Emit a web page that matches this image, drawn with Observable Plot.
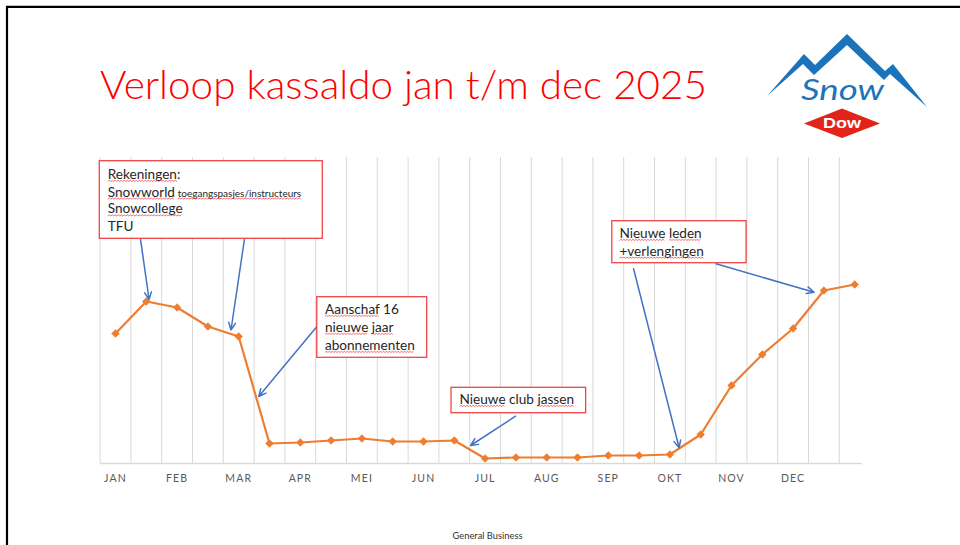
<!DOCTYPE html>
<html>
<head>
<meta charset="utf-8">
<script src="https://cdn.jsdelivr.net/npm/d3@7"></script>
<script src="https://cdn.jsdelivr.net/npm/@observablehq/plot@0.6"></script>
<style>
  html, body { margin: 0; padding: 0; background: #fff; }
  #wrap { position: relative; width: 960px; height: 545px; overflow: hidden; }
  #wrap > svg { position: absolute; left: 0; top: 0; }
</style>
</head>
<body>
<div id="wrap"></div>
<script>
// ---- data ----
const positions = [0,1,2,3,4,5,6,7,8,9,10,11,12,13,14,15,16,17,18,19,20,21,22,23,24];
const saldo = [13000,16200,15600,13700,12700,2000,2100,2300,2500,2200,2200,2300,500,600,600,600,800,800,900,2900,7800,10900,13500,17300,17900];
const monthTicks = [0,2,4,6,8,10,12,14,16,18,20,22];
const monthLabels = ["JAN","FEB","MAR","APR","MEI","JUN","JUL","AUG","SEP","OKT","NOV","DEC"];
const gridPositions = [-0.5,0.5,1.5,2.5,3.5,4.5,5.5,6.5,7.5,8.5,9.5,10.5,11.5,12.5,13.5,14.5,15.5,16.5,17.5,18.5,19.5,20.5,21.5,22.5,23.5];

const titleText = "Verloop kassaldo jan t/m dec 2025";
const footerText = "General Business";

// annotation texts
const annLines = ["Rekeningen:","Snowworld","Snowcollege","TFU","Aanschaf 16","nieuwe jaar","abonnementen","Nieuwe club jassen","Nieuwe leden","+verlengingen"];
const annSmall = ["toegangspasjes/instructeurs"];
const squiggleWords = ["Rekeningen","Snowworld","toegangspasjes/instructeurs","Snowcollege","Aanschaf","nieuwe","jaar","abonnementen","Nieuwe","jassen","leden","+verlengingen"];

// ---- annotation geometry (in data units) ----
const annX = [-0.25,-0.25,-0.25,-0.25,6.80,6.80,6.80,11.17,16.36,16.36];
const annY = [28900,27130,25450,23730,15400,13600,11800,6400,23000,21230];
const smallX = [2.02], smallY = [27020];
const boxes = [
  {x1:-0.51, x2:6.73,  y1:22470, y2:30230},
  {x1:6.55,  x2:10.12, y1:10570, y2:16630},
  {x1:10.91, x2:15.28, y1:5030,  y2:7570},
  {x1:16.13, x2:20.49, y1:20030, y2:24230}
];
const arrows = [
  {x1:0.81,  y1:22470, x2:1.09,  y2:16400},
  {x1:4.19,  y1:22500, x2:3.75,  y2:13350},
  {x1:6.52,  y1:13630, x2:4.65,  y2:6700},
  {x1:12.99, y1:4730,  x2:11.53, y2:1800},
  {x1:16.82, y1:19470, x2:18.30, y2:1570},
  {x1:19.50, y1:19970, x2:22.68, y2:17130}
];

const series = positions.map((p, i) => ({p, v: saldo[i]}));
const annData = annLines.map((t, i) => ({t, x: annX[i], y: annY[i]}));
const smallData = annSmall.map((t, i) => ({t, x: smallX[i], y: smallY[i]}));

const chart = Plot.plot({
  width: 960,
  height: 545,
  marginLeft: 100,
  marginRight: 98,
  marginTop: 157,
  marginBottom: 82,
  style: {background: "transparent", overflow: "visible", fontFamily: "Lato, 'Open Sans', sans-serif"},
  x: {type: "linear", domain: [-0.487, 24.253]},
  y: {domain: [0, 30600], axis: null},
  marks: [
    Plot.ruleX(gridPositions, {stroke: "#d9d9d9", strokeWidth: 1}),
    Plot.ruleY([0], {stroke: "#d9d9d9", strokeWidth: 1.6}),
    Plot.axisX({
      ticks: monthTicks,
      tickFormat: d => monthLabels[monthTicks.indexOf(d)],
      tickSize: 0,
      tickPadding: 11,
      fontSize: 10.5,
      color: "#595959",
      fontFamily: "Lato, sans-serif",
      label: null
    }),
    Plot.line(series, {x: "p", y: "v", stroke: "#ed7d31", strokeWidth: 2.2}),
    Plot.dot(series, {x: "p", y: "v", symbol: "square", rotate: 45, r: 3, fill: "#ed7d31", stroke: "#ed7d31", strokeWidth: 0.8}),
    Plot.arrow(arrows, {x1: "x1", y1: "y1", x2: "x2", y2: "y2", stroke: "#4472c4", strokeWidth: 1.5, headLength: 8, headAngle: 50}),
    Plot.rect(boxes, {x1: "x1", x2: "x2", y1: "y1", y2: "y2", fill: "white", stroke: "#f04545", strokeWidth: 1.3}),
    Plot.text(annData, {x: "x", y: "y", text: "t", textAnchor: "start", lineAnchor: "middle", fontSize: 13.6, fill: "#262626", fontFamily: "Lato, sans-serif"}),
    Plot.text(smallData, {x: "x", y: "y", text: "t", textAnchor: "start", lineAnchor: "middle", fontSize: 10, fill: "#262626", fontFamily: "Lato, sans-serif"})
  ]
});

document.getElementById("wrap").appendChild(chart);

// letter spacing for month labels
d3.select(chart).selectAll("text").filter(function() { return monthLabels.includes(this.textContent); })
  .style("letter-spacing", "1.1px");

// spell-check squiggles under annotation words (drawn from the measured text)
const sqSet = new Set(squiggleWords);
const allAnn = new Set(annLines.concat(annSmall));
const annTexts = d3.select(chart).selectAll("text").filter(function() { return allAnn.has(this.textContent); });
const marked = [];
annTexts.each(function() {
  const full = this.textContent;
  const sel = d3.select(this).style("white-space", "pre");
  sel.text(null);
  full.split(" ").forEach((w, i) => {
    if (i > 0) sel.append("tspan").text(" ");
    const core = w.replace(/:$/, "");
    const ts = sel.append("tspan").text(core);
    if (sqSet.has(core)) marked.push({text: this, tspan: ts.node()});
    if (core !== w) sel.append("tspan").text(":");
  });
});
marked.forEach(({text, tspan}) => {
  const n = tspan.getNumberOfChars();
  if (!n) return;
  const p0 = tspan.getStartPositionOfChar(0);
  const pEnd = tspan.getEndPositionOfChar(n - 1);
  const yb = p0.y + 2.6;
  let d = `M${p0.x},${yb}`;
  let up = true;
  for (let x = p0.x + 1.5; x <= pEnd.x + 0.01; x += 1.5) {
    d += ` L${x},${up ? yb - 1.1 : yb}`;
    up = !up;
  }
  const path = document.createElementNS("http://www.w3.org/2000/svg", "path");
  path.setAttribute("d", d);
  path.setAttribute("fill", "none");
  path.setAttribute("stroke", "#e8262b");
  path.setAttribute("stroke-width", "0.8");
  path.setAttribute("stroke-opacity", "0.85");
  const tr = text.getAttribute("transform");
  if (tr) path.setAttribute("transform", tr);
  text.parentNode.appendChild(path);
});

// ---- slide decoration: frame, title, logo, footer ----
const ns = "http://www.w3.org/2000/svg";
const deco = d3.select("#wrap").append("svg")
  .attr("xmlns", ns).attr("width", 960).attr("height", 545)
  .style("pointer-events", "none");

deco.append("path").attr("d", "M7,546 V6.8 H961")
  .attr("fill", "none").attr("stroke", "#000").attr("stroke-width", 2.2);

deco.append("text").attr("x", 100).attr("y", 99)
  .attr("font-family", "Lato, sans-serif").attr("font-weight", 300)
  .attr("font-size", 40).attr("fill", "#ff0000")
  .attr("textLength", 607).attr("lengthAdjust", "spacingAndGlyphs")
  .text(titleText);

// logo
const logo = deco.append("g");
logo.append("polygon")
  .attr("points", "767,96 804,54 815,65 847,34 885,71 893,64 927,107 890,74 884,80 847,45 814,75 803,64")
  .attr("fill", "#1b74bb");
logo.append("text").attr("x", 801).attr("y", 100)
  .attr("font-family", "Lato, sans-serif").attr("font-style", "italic").attr("font-weight", 400)
  .attr("font-size", 28).attr("fill", "#1b74bb")
  .attr("textLength", 83).attr("lengthAdjust", "spacingAndGlyphs")
  .text("Snow");
logo.append("polygon").attr("points", "804,123.5 842,108.5 880,123.5 842,138")
  .attr("fill", "#e2231a");
logo.append("text").attr("x", 823).attr("y", 128)
  .attr("font-family", "'Liberation Sans', Arial, sans-serif").attr("font-weight", 700)
  .attr("font-size", 14).attr("fill", "#fff")
  .attr("textLength", 38).attr("lengthAdjust", "spacingAndGlyphs")
  .text("Dow");

deco.append("text").attr("x", 487.5).attr("y", 539).attr("text-anchor", "middle")
  .attr("font-family", "Lato, sans-serif").attr("font-size", 9).attr("fill", "#333")
  .attr("textLength", 70).attr("lengthAdjust", "spacingAndGlyphs")
  .text(footerText);
</script>
</body>
</html>
